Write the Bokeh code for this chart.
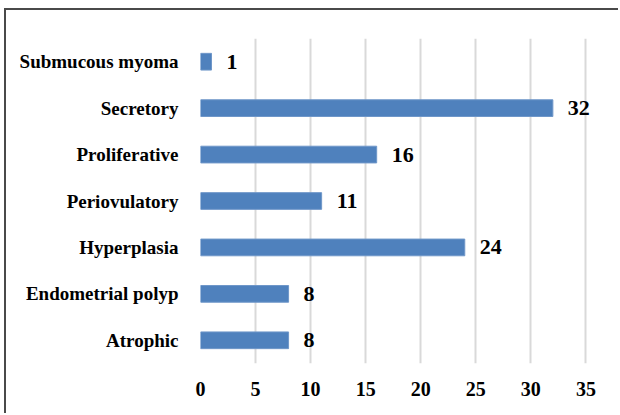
from bokeh.plotting import figure
from bokeh.models import ColumnDataSource, FactorRange, Range1d, FixedTicker, LabelSet
from bokeh.embed import file_html
from bokeh.resources import INLINE

categories = ["Atrophic", "Endometrial polyp", "Hyperplasia", "Periovulatory",
              "Proliferative", "Secretory", "Submucous myoma"]
counts = [8, 8, 24, 11, 16, 32, 1]
x_ticks = [0, 5, 10, 15, 20, 25, 30, 35]

FONT = "Liberation Serif"

source = ColumnDataSource(data=dict(cat=categories, val=counts,
                                    lab=[str(v) for v in counts]))

p = figure(width=614, height=405, output_backend="svg", toolbar_location=None,
           y_range=FactorRange(*categories, range_padding=0),
           x_range=Range1d(0, 36.78),
           min_border_left=194, min_border_right=15,
           min_border_top=28, min_border_bottom=52)
p.styles = {"margin-left": "4px", "margin-top": "8px",
            "border-left": "2px solid #4a4a4a", "border-top": "2px solid #4a4a4a"}
p.outline_line_color = None

p.hbar(y="cat", right="val", left=0, height=0.36, source=source,
       fill_color="#4F81BD", line_color="#6f97c9", line_width=1)

labels = LabelSet(x="val", y="cat", text="lab", source=source,
                  x_offset=15, text_align="left", text_baseline="middle",
                  text_font=FONT, text_font_style="bold", text_font_size="22px",
                  text_color="black")
p.add_layout(labels)

p.xaxis.ticker = FixedTicker(ticks=x_ticks)
p.xaxis.axis_line_color = None
p.xaxis.major_tick_line_color = None
p.xaxis.minor_tick_line_color = None
p.xaxis.major_label_text_font = FONT
p.xaxis.major_label_text_font_style = "bold"
p.xaxis.major_label_text_font_size = "20px"
p.xaxis.major_label_text_color = "black"
p.xaxis.major_label_standoff = 12

p.yaxis.axis_line_color = None
p.yaxis.major_tick_line_color = None
p.yaxis.minor_tick_line_color = None
p.yaxis.major_label_text_font = FONT
p.yaxis.major_label_text_font_style = "bold"
p.yaxis.major_label_text_font_size = "19px"
p.yaxis.major_label_text_color = "black"
p.yaxis.major_label_standoff = 16

p.ygrid.grid_line_color = None
p.xgrid.grid_line_color = "#D9D9D9"
p.xgrid.grid_line_width = 2

open("out.html", "w").write(file_html(p, INLINE))
